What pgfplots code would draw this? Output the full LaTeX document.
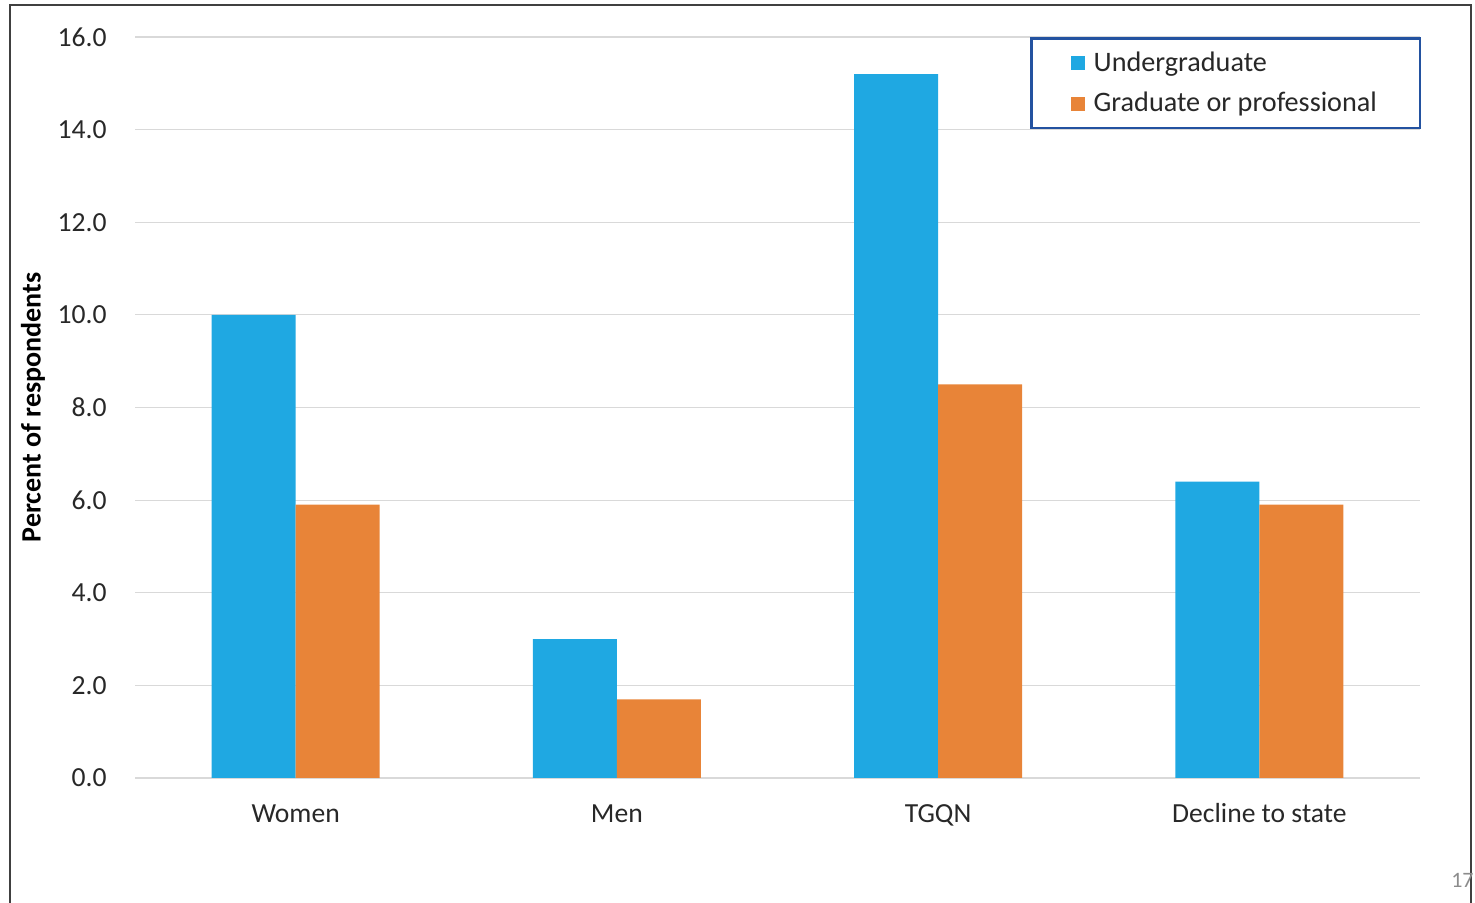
\documentclass[border=0pt]{standalone}
\usepackage{fontspec}
\setmainfont{Carlito}
\usepackage{pgfplots}
\pgfplotsset{compat=1.18}
\definecolor{ugblue}{RGB}{31,168,226}
\definecolor{grorange}{RGB}{232,132,56}
\definecolor{legblue}{RGB}{35,82,160}
\definecolor{txt}{RGB}{40,40,40}
\begin{document}
\begin{tikzpicture}
\useasboundingbox (0,0) rectangle (737.5pt,451.5pt);
\draw[black!75, line width=0.8pt] (5pt,-3pt) -- (5pt,449pt) -- (735.5pt,449pt) -- (735.5pt,-3pt);
\begin{axis}[
  at={(67.5pt,62.5pt)}, anchor=south west,
  scale only axis, width=642.5pt, height=370.5pt,
  xmin=-0.5, xmax=3.5, ymin=0, ymax=16,
  ybar=0pt, bar width=42pt,
  xtick={0,1,2,3},
  xticklabels={Women,Men,TGQN,Decline to state},
  ytick={0,2,...,16},
  axis line style={draw=none},
  major tick length=0pt,
  ymajorgrids, grid style={draw=black!15, line width=0.6pt},
  /pgf/number format/.cd, fixed, zerofill, precision=1, assume math mode=true,
  /pgfplots/.cd,
  yticklabel style={font=\fontsize{13.8pt}{16pt}\selectfont, text=txt, inner sep=0pt, anchor=east, xshift=-14pt},
  xticklabel style={font=\fontsize{13.8pt}{16pt}\selectfont, text=txt, inner sep=0pt, anchor=base, yshift=-22.5pt},
  ylabel={\textbf{Percent of respondents}},
  ylabel style={font=\fontsize{14pt}{16pt}\selectfont, text=black, at={(axis description cs:0,0.5)}, anchor=center, yshift=51pt},
  legend style={at={(rel axis cs:1.001,0.9995)}, anchor=north east, draw=legblue, line width=1.4pt,
    font=\fontsize{14.1pt}{16pt}\selectfont, text=txt, inner xsep=19.5pt, inner ysep=4.5pt,
    row sep=5pt, cells={anchor=west},
    /tikz/every odd column/.append style={column sep=2.5pt}},
  legend image code/.code={\fill[#1] (0pt,-3.5pt) rectangle (7pt,3.5pt);},
]
\addplot[draw=none, fill=ugblue] coordinates {(0,10.0) (1,3.0) (2,15.2) (3,6.4)};
\addplot[draw=none, fill=grorange] coordinates {(0,5.9) (1,1.7) (2,8.5) (3,5.9)};
\legend{Undergraduate, Graduate or professional}
\end{axis}
\node[anchor=east, text=black!45, font=\fontsize{11pt}{13pt}\selectfont, inner sep=0pt] at (737pt,11.5pt) {17};
\end{tikzpicture}
\end{document}
